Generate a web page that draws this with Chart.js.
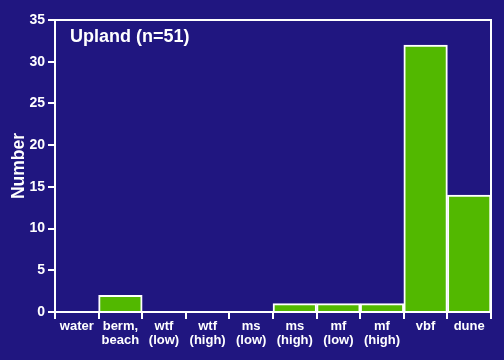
<!DOCTYPE html>
<html>
<head>
<meta charset="utf-8">
<script src="https://cdn.jsdelivr.net/npm/chart.js@4"></script>
<style>
  html, body { margin: 0; padding: 0; background: #201680; }
  #wrap { width: 504px; height: 360px; }
</style>
</head>
<body>
<div id="wrap"><canvas id="c"></canvas></div>
<script>
var labels = ["water", ["berm,", "beach"], ["wtf", "(low)"], ["wtf", "(high)"], ["ms", "(low)"],
  ["ms", "(high)"], ["mf", "(low)"], ["mf", "(high)"], "vbf", "dune"];
var counts = [0, 2, 0, 0, 0, 1, 1, 1, 32, 14];
var yTicks = [0, 5, 10, 15, 20, 25, 30, 35];
var panelTitle = "Upland (n=51)";

Chart.defaults.font.family = "'Liberation Sans', Arial, sans-serif";
Chart.defaults.font.weight = "bold";
Chart.defaults.color = "#ffffff";

// top + right frame lines and the panel title
var frame = {
  id: "frame",
  afterDraw: function (chart) {
    var ctx = chart.ctx, a = chart.chartArea;
    ctx.save();
    ctx.strokeStyle = "#ffffff";
    ctx.lineWidth = 2;
    ctx.beginPath();
    ctx.moveTo(a.left - 7, a.top);
    ctx.lineTo(a.right, a.top);
    ctx.lineTo(a.right, a.bottom + 7);
    ctx.stroke();
    ctx.fillStyle = "#ffffff";
    ctx.font = "bold 18px 'Liberation Sans', Arial, sans-serif";
    ctx.textBaseline = "middle";
    ctx.fillText(panelTitle, a.left + 15, a.top + 17);
    ctx.restore();
  }
};

new Chart(document.getElementById("c"), {
  type: "bar",
  data: {
    labels: labels,
    datasets: [{
      data: counts,
      backgroundColor: "#52b800",
      borderColor: "#ffffff",
      borderWidth: 2,
      categoryPercentage: 1.0,
      barPercentage: 1.0
    }]
  },
  options: {
    responsive: true,
    maintainAspectRatio: false,
    animation: false,
    layout: { padding: { top: 20, right: 13, left: 0, bottom: 0 } },
    plugins: { legend: { display: false }, tooltip: { enabled: false } },
    scales: {
      x: {
        grid: { offset: true, drawOnChartArea: false, color: "#ffffff", lineWidth: 2, tickLength: 7 },
        border: { color: "#ffffff", width: 2 },
        ticks: { font: { size: 13, weight: "bold", lineHeight: 1.1 }, maxRotation: 0, autoSkip: false, padding: 0 },
        afterFit: function (s) { s.height = 48; }
      },
      y: {
        min: 0, max: 35,
        afterBuildTicks: function (s) { s.ticks = yTicks.map(function (v) { return { value: v }; }); },
        grid: { drawOnChartArea: false, color: "#ffffff", lineWidth: 2, tickLength: 7 },
        border: { color: "#ffffff", width: 2 },
        ticks: { font: { size: 14, weight: "bold" }, padding: 3 },
        title: { display: true, text: "Number", font: { size: 17.5, weight: "bold" }, padding: { top: 9, bottom: 0 } },
        afterFit: function (s) { s.width = 55; }
      }
    }
  },
  plugins: [frame]
});
</script>
</body>
</html>
